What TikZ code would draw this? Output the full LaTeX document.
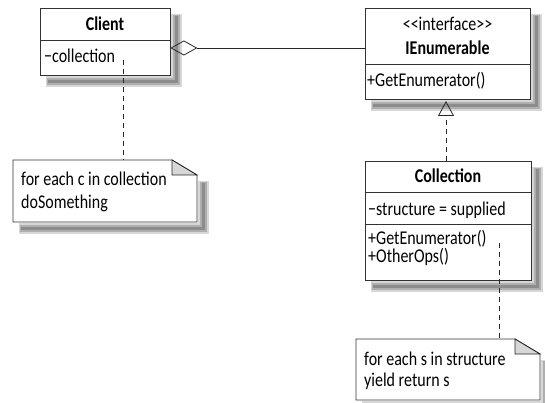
\documentclass[tikz,border=0pt]{standalone}
\usepackage{fontspec}
\setmainfont{Carlito}[FakeStretch=0.82, Ligatures=TeXOff]
\usetikzlibrary{arrows.meta}
\definecolor{shadowlight}{RGB}{215,215,215}
\definecolor{shadowmid}{RGB}{175,175,175}
\definecolor{shadowdark}{RGB}{140,140,140}
\definecolor{foldgray}{RGB}{215,215,215}
\tikzset{
  umlbox/.style={draw=black!80, line width=0.8pt, fill=white, rectangle, inner sep=0pt},
  shadowA/.style={draw=shadowlight, line width=11pt},
  shadowB/.style={draw=shadowmid, line width=7pt},
  shadowC/.style={draw=shadowdark, line width=3pt},
  sep/.style={draw=black!80, line width=0.8pt},
  title/.style={font=\fontsize{19.5}{22}\selectfont\bfseries, inner sep=0pt, anchor=base},
  plain/.style={font=\fontsize{19.5}{22}\selectfont, inner sep=0pt, anchor=base},
  item/.style={font=\fontsize{19.5}{22}\selectfont, inner sep=0pt, anchor=base west},
  notepath/.style={draw=black!80, line width=0.8pt, fill=white},
  dashline/.style={draw=black!85, line width=0.8pt, dash pattern=on 5pt off 4pt},
  solidline/.style={draw=black!85, line width=0.8pt},
}
\begin{document}
\begin{tikzpicture}[x=1pt,y=-1pt]
\useasboundingbox (0,0) rectangle (545,403);

% Client
\node[umlbox, minimum width=130pt, minimum height=67pt] (client) at (105,41.5) {};
\draw[sep] (40,40) -- (170,40);
\node[title] (clientname) at (105,31) {Client};
\node[item] (clientattr) at (44,63) {−collection};
\coordinate (clientdash) at (123,60);

% IEnumerable
\node[umlbox, minimum width=165pt, minimum height=91pt] (ienum) at (447.5,53.5) {};
\draw[sep] (365,64) -- (530,64);
\node[plain] (stereo) at (447.5,31) {<<interface>>};
\node[title] (ienumname) at (447.5,55) {IEnumerable};
\node[item] (ienumop) at (367,87) {+GetEnumerator()};

% Collection
\node[umlbox, minimum width=166pt, minimum height=119pt] (coll) at (448,220.5) {};
\draw[sep] (365,192) -- (531,192);
\draw[sep] (365,224) -- (531,224);
\node[title] (collname) at (448,183) {Collection};
\node[item] (collattr) at (368,215) {−structure = supplied};
\node[item, align=left, font=\fontsize{19.5}{16}\selectfont] (collops) at (368,262) {+GetEnumerator()\\+OtherOps()};
\coordinate (colldash) at (499,243);

% Note 1
\path[notepath] (13,160) -- (172,160) -- (197,175) -- (197,222) -- (13,222) -- cycle;
\draw[solidline, fill=foldgray] (172,160) -- (172,175) -- (197,175) -- cycle;
\node[inner sep=0pt, minimum width=184pt, minimum height=62pt] (note1) at (105,191) {};
\node[item, align=left, font=\fontsize{19.5}{23}\selectfont] (note1text) at (21,208) {for each c in collection\\doSomething};

% Note 2
\path[notepath] (356,339) -- (515,339) -- (540,354) -- (540,400) -- (356,400) -- cycle;
\draw[solidline, fill=foldgray] (515,339) -- (515,354) -- (540,354) -- cycle;
\node[inner sep=0pt, minimum width=184pt, minimum height=61pt] (note2) at (448,369.5) {};
\node[item, align=left, font=\fontsize{19.5}{21}\selectfont] (note2text) at (364,386) {for each s in structure\\yield return s};

% shadows: soft strokes just outside the right and bottom edges
\begin{scope}[line cap=butt, line join=miter]
\draw[shadowA] (176.5,14) -- (176.5,81.5) -- (46,81.5);
\draw[shadowB] (176.5,15) -- (176.5,81.5) -- (47,81.5);
\draw[shadowC] (176.5,16) -- (176.5,81.5) -- (48,81.5);

\draw[shadowA] (536.5,14) -- (536.5,105.5) -- (371,105.5);
\draw[shadowB] (536.5,15) -- (536.5,105.5) -- (372,105.5);
\draw[shadowC] (536.5,16) -- (536.5,105.5) -- (373,105.5);

\draw[shadowA] (537.5,167) -- (537.5,286.5) -- (371,286.5);
\draw[shadowB] (537.5,168) -- (537.5,286.5) -- (372,286.5);
\draw[shadowC] (537.5,169) -- (537.5,286.5) -- (373,286.5);

\draw[shadowA] (203.5,181) -- (203.5,228.5) -- (19,228.5);
\draw[shadowB] (203.5,182) -- (203.5,228.5) -- (20,228.5);
\draw[shadowC] (203.5,183) -- (203.5,228.5) -- (21,228.5);

\draw[shadowA] (546.5,360) -- (546.5,406.5) -- (362,406.5);
\draw[shadowB] (546.5,361) -- (546.5,406.5) -- (363,406.5);
\draw[shadowC] (546.5,362) -- (546.5,406.5) -- (364,406.5);
\end{scope}

% Connectors
\coordinate (aggA) at (client.east |- 0,48);
\coordinate (aggB) at (ienum.west |- 0,48);
\draw[solidline, -{Diamond[open, length=27pt, width=15pt, line width=0.8pt]}] (aggB) -- (aggA);

\coordinate (realtop) at (446,101);
\coordinate (realbot) at (coll.north -| 446,0);
\draw[dashline, -{Triangle[open, length=15pt, width=16pt, line width=0.8pt]}] (realbot) -- (realtop);

\draw[dashline] (clientdash) -- (clientdash |- note1.north);
\draw[dashline] (colldash) -- (colldash |- note2.north);
\end{tikzpicture}
\end{document}
